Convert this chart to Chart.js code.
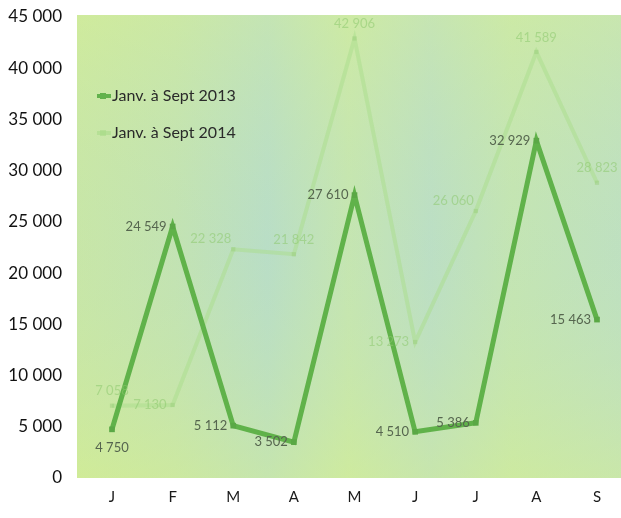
<!DOCTYPE html>
<html>
<head>
<meta charset="utf-8">
<script src="https://cdn.jsdelivr.net/npm/chart.js@4/dist/chart.umd.min.js"></script>
<style>
html,body{margin:0;padding:0;background:#fff;}
#wrap{width:621px;height:518px;}
</style>
</head>
<body>
<div id="wrap"><canvas id="c" width="621" height="518"></canvas></div>
<script>
const months = ['J','F','M','A','M','J','J','A','S'];
const seriesNames = ['Janv. à Sept 2013','Janv. à Sept 2014'];
const values2013 = [4750, 24549, 5112, 3502, 27610, 4510, 5386, 32929, 15463];
const values2014 = [7058, 7130, 22328, 21842, 42906, 13273, 26060, 41589, 28823];
const yTicks = [0,5000,10000,15000,20000,25000,30000,35000,40000,45000];
// label placement per point (relative direction only)
const pos2013 = ['below','left','left','left','left','left','left','left','left'];
const pos2014 = ['above','left','aboveleft','above','above','left','aboveleft','above','above'];

const FONT = "Lato, 'Open Sans', sans-serif";
function fmt(v){ return String(v).replace(/\B(?=(\d{3})+(?!\d))/g,' '); }

const bgPlugin = {
  id:'bg',
  beforeDraw(chart){
    const {ctx, chartArea:a} = chart;
    const x0 = a.left - 35, x1 = chart.width, y0 = a.top - 2, y1 = a.bottom;
    ctx.save();
    const g = ctx.createLinearGradient(x0,0,x1,0);
    g.addColorStop(0,'#cbe8a0');
    g.addColorStop(0.18,'#c5e4ad');
    g.addColorStop(0.35,'#badec4');
    g.addColorStop(0.5,'#c8e7ab');
    g.addColorStop(0.65,'#bddfc2');
    g.addColorStop(0.8,'#c6e6ae');
    g.addColorStop(1,'#c0e1bd');
    ctx.fillStyle = g;
    ctx.fillRect(x0,y0,x1-x0,y1-y0);
    const v = ctx.createLinearGradient(0,y0,0,y1);
    v.addColorStop(0,'rgba(215,240,150,0.35)');
    v.addColorStop(0.5,'rgba(180,220,210,0.15)');
    v.addColorStop(1,'rgba(215,240,140,0.4)');
    ctx.fillStyle = v;
    ctx.fillRect(x0,y0,x1-x0,y1-y0);
    ctx.restore();
  }
};

const labelPlugin = {
  id:'vlabels',
  afterDatasetsDraw(chart){
    const ctx = chart.ctx;
    ctx.save();
    ctx.font = "13px " + FONT;
    const sets = [
      {i:0, pos:pos2013, color:'#56664f'},
      {i:1, pos:pos2014, color:'rgba(140,200,110,0.55)'}
    ];
    sets.forEach(s=>{
      const meta = chart.getDatasetMeta(s.i);
      const data = chart.data.datasets[s.i].data;
      meta.data.forEach((pt,k)=>{
        const t = fmt(data[k]);
        let x = pt.x, y = pt.y;
        ctx.fillStyle = s.color;
        const p = s.pos[k];
        if(p==='left'){ ctx.textAlign='right'; ctx.textBaseline='middle'; x -= 6; }
        else if(p==='below'){ ctx.textAlign='center'; ctx.textBaseline='top'; y += 12; }
        else if(p==='above'){ ctx.textAlign='center'; ctx.textBaseline='bottom'; y -= 8; }
        else if(p==='aboveleft'){ ctx.textAlign='right'; ctx.textBaseline='bottom'; x -= 2; y -= 4; }
        ctx.fillText(t,x,y);
      });
    });
    ctx.restore();
  }
};

const legendPlugin = {
  id:'inlegend',
  afterDatasetsDraw(chart){
    const ctx = chart.ctx;
    const items = [
      {name: seriesNames[0], line:'#62b24c', y:96},
      {name: seriesNames[1], line:'rgba(165,218,135,0.55)', y:133}
    ];
    ctx.save();
    items.forEach(it=>{
      ctx.strokeStyle = it.line; ctx.lineWidth = 4;
      ctx.beginPath(); ctx.moveTo(97,it.y); ctx.lineTo(111,it.y); ctx.stroke();
      ctx.fillStyle = it.line; ctx.fillRect(100,it.y-3,6,6);
      ctx.fillStyle = '#2a2a2a';
      ctx.font = "16px " + FONT;
      ctx.textAlign='left'; ctx.textBaseline='middle';
      ctx.fillText(it.name, 112, it.y);
    });
    ctx.restore();
  }
};

new Chart(document.getElementById('c'), {
  type:'line',
  data:{
    labels: months,
    datasets:[
      {label: seriesNames[0], data: values2013, borderColor:'#60b24a', borderWidth:5,
       pointStyle:'rect', pointRadius:4, pointBackgroundColor:'#5aa845', pointBorderWidth:0,
       tension:0},
      {label: seriesNames[1], data: values2014, borderColor:'rgba(170,222,140,0.5)', borderWidth:4,
       pointStyle:'rect', pointRadius:3, pointBackgroundColor:'rgba(150,205,120,0.45)', pointBorderWidth:0,
       tension:0}
    ]
  },
  options:{
    responsive:false, animation:false, devicePixelRatio:1,
    layout:{padding:{top:17,right:24,bottom:2,left:0}},
    plugins:{legend:{display:false}, tooltip:{enabled:false}},
    scales:{
      x:{offset:false, grid:{display:false, drawTicks:false}, border:{display:false},
         ticks:{color:'#1a1a1a', font:{family:FONT, size:15}, padding:10, maxRotation:0}},
      y:{min:0, max:45000, grid:{display:false, drawTicks:false}, border:{display:false},
         afterBuildTicks(s){ s.ticks = yTicks.map(v=>({value:v})); },
         afterFit(s){ s.width = 112; s.paddingTop = 8; s.paddingBottom = 8; },
         ticks:{color:'#111', font:{family:FONT, size:17}, padding:50,
                callback:(v)=>fmt(v)}}
    }
  },
  plugins:[bgPlugin, labelPlugin, legendPlugin]
});
</script>
</body>
</html>
